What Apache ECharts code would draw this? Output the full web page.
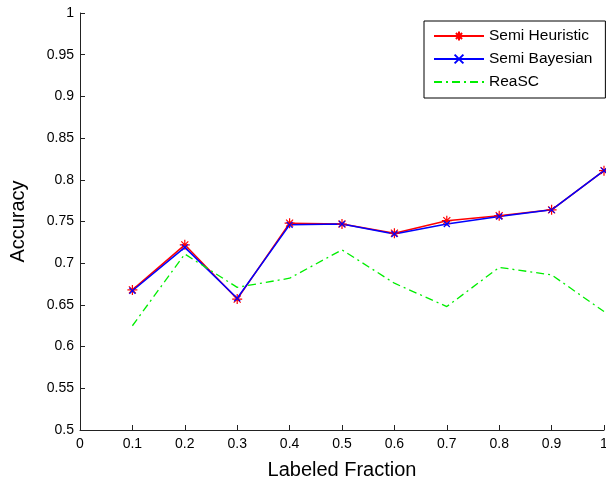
<!DOCTYPE html>
<html>
<head>
<meta charset="utf-8">
<script src="https://cdn.jsdelivr.net/npm/echarts@6/dist/echarts.min.js"></script>
<style>
html,body{margin:0;padding:0;background:#fff;}
#chart{width:606px;height:486px;}
</style>
</head>
<body>
<div id="chart"></div>
<script>
// labeled fraction on x
var fractions = [0.1, 0.2, 0.3, 0.4, 0.5, 0.6, 0.7, 0.8, 0.9, 1.0];
// accuracy per method
var semiHeuristic = [0.668, 0.722, 0.657, 0.748, 0.747, 0.736, 0.751, 0.757, 0.764, 0.811];
var semiBayesian  = [0.667, 0.719, 0.658, 0.746, 0.747, 0.735, 0.747, 0.756, 0.764, 0.811];
var reaSC         = [0.625, 0.711, 0.671, 0.682, 0.716, 0.676, 0.648, 0.695, 0.686, 0.642];

function pairs(ys){
    var out = [];
    for (var i = 0; i < fractions.length; i++) {
        out.push([fractions[i], ys[i]]);
    }
    return out;
}

var starPath = 'path://M5,0L5,10M0,5L10,5M1.5,1.5L8.5,8.5M8.5,1.5L1.5,8.5';
var crossPath = 'path://M0,0L10,10M10,0L0,10';
var font = 'Liberation Sans, Arial, sans-serif';

var myChart = echarts.init(document.getElementById('chart'));
var option = {
    animation: false,
    backgroundColor: '#fff',
    grid: {left: 80, top: 13, right: 2, bottom: 56, outerBoundsMode: 'none', containLabel: false},
    legend: {
        orient: 'vertical',
        left: 424,
        top: 21,
        padding: [7, 13, 8, 9],
        itemWidth: 50,
        itemHeight: 11,
        itemGap: 7,
        borderColor: '#000',
        borderWidth: 1,
        backgroundColor: '#fff',
        textStyle: {fontFamily: font, fontSize: 15.5, color: '#000', padding: [0, 0, 0, 0]},
        data: [
            'Semi Heuristic',
            'Semi Bayesian',
            {name: 'ReaSC', itemStyle: {opacity: 0}}
        ]
    },
    xAxis: {
        type: 'value',
        min: 0,
        max: 1,
        interval: 0.1,
        name: 'Labeled Fraction',
        nameLocation: 'middle',
        nameGap: 30,
        nameTextStyle: {fontFamily: font, fontSize: 20, color: '#000'},
        axisLine: {lineStyle: {color: '#222', width: 1}},
        axisTick: {inside: true, length: 5, lineStyle: {color: '#222'}},
        axisLabel: {fontFamily: font, fontSize: 14, color: '#000', margin: 7},
        splitLine: {show: false}
    },
    yAxis: {
        type: 'value',
        min: 0.5,
        max: 1,
        interval: 0.05,
        name: 'Accuracy',
        nameLocation: 'middle',
        nameGap: 52,
        nameTextStyle: {fontFamily: font, fontSize: 20, color: '#000'},
        axisLine: {show: true, lineStyle: {color: '#222', width: 1}},
        axisTick: {show: true, inside: true, length: 5, lineStyle: {color: '#222'}},
        axisLabel: {fontFamily: font, fontSize: 14, color: '#000', margin: 6},
        splitLine: {show: false}
    },
    series: [
        {
            name: 'Semi Heuristic',
            type: 'line',
            clip: false,
            data: pairs(semiHeuristic),
            symbol: starPath,
            symbolSize: 10,
            color: '#ff0000',
            itemStyle: {color: '#ff0000', borderColor: '#ff0000', borderWidth: 1.2},
            lineStyle: {color: '#ff0000', width: 1.5}
        },
        {
            name: 'Semi Bayesian',
            type: 'line',
            clip: false,
            data: pairs(semiBayesian),
            symbol: crossPath,
            symbolSize: 6,
            color: '#0000ff',
            itemStyle: {color: '#0000ff', borderColor: '#0000ff', borderWidth: 1.2},
            lineStyle: {color: '#0000ff', width: 1.5}
        },
        {
            name: 'ReaSC',
            type: 'line',
            clip: false,
            data: pairs(reaSC),
            symbol: 'none',
            color: '#00ee00',
            itemStyle: {opacity: 0},
            lineStyle: {color: '#00ee00', width: 1.3, type: [8, 4, 2, 4]}
        }
    ]
};
myChart.setOption(option);
</script>
</body>
</html>
